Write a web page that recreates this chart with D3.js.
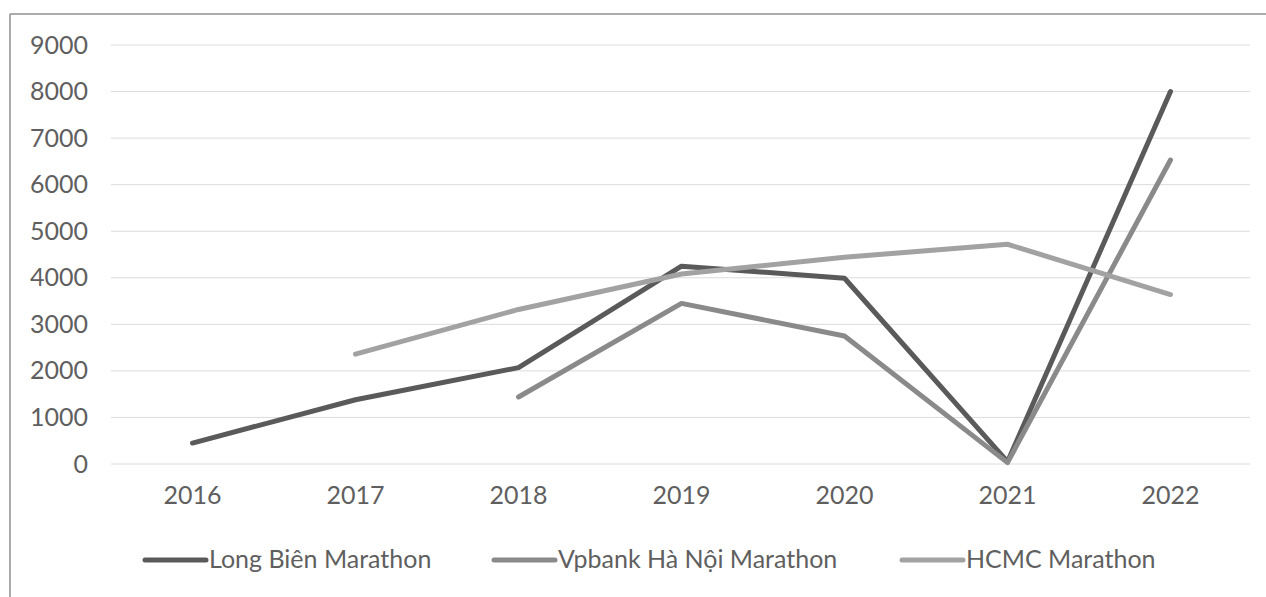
<!DOCTYPE html>
<html><head><meta charset="utf-8">
<script src="https://cdn.jsdelivr.net/npm/d3@7"></script>
<style>html,body{margin:0;padding:0;background:#fff;}svg{display:block;}</style>
</head><body>
<svg id="chart" width="1266" height="597"></svg>
<script>
const years = ["2016","2017","2018","2019","2020","2021","2022"];
const longBien = [450, 1380, 2070, 4250, 3990, 50, 8000];
const vpbank = [null, null, 1440, 3450, 2750, 30, 6530];
const hcmc = [null, 2360, 3320, 4080, 4440, 4720, 3640];
const yTicks = [0,1000,2000,3000,4000,5000,6000,7000,8000,9000];
const seriesNames = ["Long Biên Marathon", "Vpbank Hà Nội Marathon", "HCMC Marathon"];
const seriesColors = ["#5a5a5a", "#8a8a8a", "#a2a2a2"];

const svg = d3.select("#chart");
const font = "Lato, 'Open Sans', sans-serif";
const fs = 25;
const x = d3.scaleBand().domain(years).range([111, 1252]);
const y = d3.scaleLinear().domain([0, 9000]).range([464, 45]);

// frame
svg.append("line").attr("x1",10).attr("x2",1266).attr("y1",14).attr("y2",14).attr("stroke","#8f8f8f").attr("stroke-width",1.5);
svg.append("line").attr("x1",10).attr("x2",10).attr("y1",14).attr("y2",597).attr("stroke","#8f8f8f").attr("stroke-width",1.5);

// gridlines
svg.append("g").selectAll("line").data(yTicks).join("line")
  .attr("x1", 111).attr("x2", 1250)
  .attr("y1", d => y(d)).attr("y2", d => y(d))
  .attr("stroke", "#dcdcdc").attr("stroke-width", 1);

// y axis
const yAxis = svg.append("g").attr("transform","translate(88,0)")
  .call(d3.axisLeft(y).tickValues(yTicks).tickSize(0).tickPadding(0).tickFormat(d3.format("d")));
yAxis.select(".domain").remove();
yAxis.selectAll("text").attr("font-family", font).attr("font-size", fs).attr("fill","#5f5f5f");

// x axis
const xAxis = svg.append("g").attr("transform","translate(0,482)")
  .call(d3.axisBottom(x).tickSize(0).tickPadding(4));
xAxis.select(".domain").remove();
xAxis.selectAll("text").attr("font-family", font).attr("font-size", fs).attr("fill","#5f5f5f");

// lines
const data = [longBien, vpbank, hcmc];
const line = d3.line()
  .defined(d => d.v !== null)
  .x(d => x(d.year) + x.bandwidth()/2)
  .y(d => y(d.v));
data.forEach((vals, i) => {
  const pts = years.map((yr, j) => ({year: yr, v: vals[j]}));
  svg.append("path").datum(pts)
    .attr("d", line).attr("fill","none")
    .attr("stroke", seriesColors[i]).attr("stroke-width", 5)
    .attr("stroke-linejoin","round").attr("stroke-linecap","round");
});

// legend
const legendX = [145, 494, 902];
const lg = svg.append("g");
seriesNames.forEach((name, i) => {
  lg.append("line").attr("x1", legendX[i]).attr("x2", legendX[i] + 61)
    .attr("y1", 560).attr("y2", 560)
    .attr("stroke", seriesColors[i]).attr("stroke-width", 5).attr("stroke-linecap","round");
  lg.append("text").attr("x", legendX[i] + 64).attr("y", 568)
    .attr("font-family", font).attr("font-size", fs).attr("fill", "#5f5f5f")
    .text(name);
});
</script>
</body></html>
